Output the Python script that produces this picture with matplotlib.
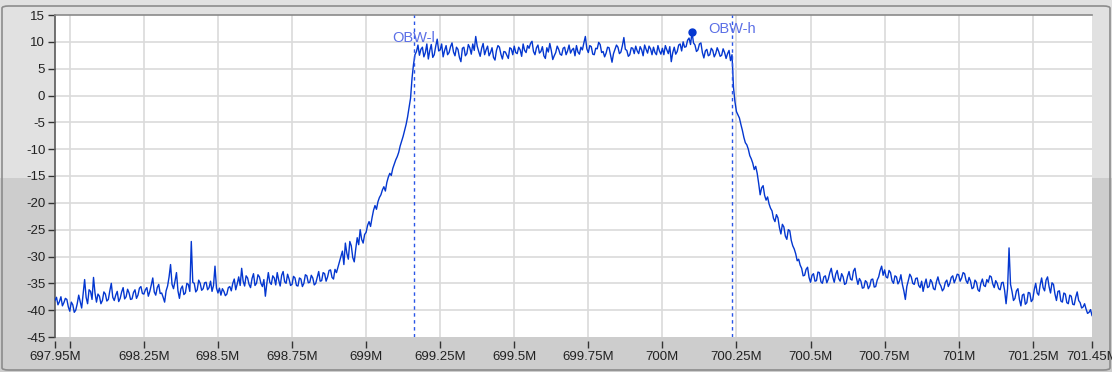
import numpy as np
import matplotlib.pyplot as plt
from matplotlib.patches import Rectangle, FancyBboxPatch
from matplotlib.ticker import FixedLocator, FixedFormatter

plt.rcParams['font.family'] = ['Liberation Sans', 'DejaVu Sans']

# spectrum trace, one value every 5 kHz from 697.95 MHz to 701.45 MHz (dBm)
f_start = 697.95
f_stop = 701.45
level = [
    # 697.95 - 698.245
    -38.2, -37.6, -39.0, -38.4, -37.5, -39.2, -38.6, -37.8, -38.0, -39.4,
    -40.2, -38.5, -39.0, -40.4, -40.0, -38.8, -37.2, -38.4, -39.6, -37.0,
    -34.3, -37.6, -38.8, -36.2, -36.5, -38.0, -33.9, -36.8, -38.5, -37.0,
    -37.4, -38.8, -38.2, -36.6, -37.0, -38.3, -38.0, -36.4, -35.0, -37.6,
    -38.2, -37.2, -36.5, -38.4, -37.8, -36.6, -35.8, -37.9, -37.5, -36.1,
    -36.8, -38.0, -37.9, -36.7, -36.2, -37.8, -37.2, -35.9, -35.6, -36.9,
    # 698.25 - 698.495
    -37.0, -36.2, -35.8, -37.4, -36.5, -35.3, -34.0, -36.6, -37.2, -35.8,
    -35.2, -36.9, -36.8, -37.6, -38.5, -36.4, -35.5, -33.8, -31.5, -35.2,
    -36.0, -34.6, -33.0, -36.4, -37.8, -36.0, -35.5, -37.1, -36.8, -35.0,
    -35.2, -36.5, -27.2, -34.8, -35.0, -36.6, -36.2, -34.4, -35.0, -36.3,
    -36.0, -34.9, -34.8, -36.2, -35.8, -34.6, -36.5, -35.4, -31.8, -35.9,
    # 698.50 - 698.745
    -36.8, -35.9, -37.2, -36.0, -36.5, -37.3, -37.0, -35.8, -35.6, -36.4,
    -35.0, -34.2, -36.2, -35.1, -33.8, -35.4, -32.2, -34.6, -35.5, -33.6,
    -34.0, -35.2, -35.8, -34.1, -33.2, -35.4, -35.0, -33.4, -33.8, -35.0,
    -35.6, -34.3, -37.4, -35.0, -33.0, -34.8, -35.2, -33.6, -34.0, -35.3,
    -33.0, -34.4, -35.5, -33.5, -32.8, -34.7, -35.0, -33.3, -34.2, -35.4,
    # 698.75 - 698.995
    -35.2, -33.7, -34.0, -35.4, -35.5, -34.0, -34.2, -35.6, -35.0, -33.4,
    -33.6, -34.9, -34.8, -33.5, -34.0, -35.3, -35.0, -33.9, -32.8, -34.6,
    -34.5, -33.0, -33.2, -34.6, -33.8, -32.6, -32.5, -33.9, -34.2, -32.4,
    -33.0, -32.0, -31.0, -30.0, -29.0, -31.5, -27.5, -29.4, -30.5, -27.2,
    -28.0, -30.2, -31.0, -28.6, -26.5, -27.8, -25.0, -26.8, -27.5, -25.9,
    # 699.00 - 699.245
    -25.5, -24.2, -23.5, -24.4, -22.8, -21.4, -20.5, -21.2, -19.8, -19.0,
    -18.5, -17.6, -17.0, -17.8, -16.2, -15.2, -14.5, -14.9, -13.6, -12.8,
    -12.0, -11.4, -10.6, -9.4, -8.5, -7.6, -6.5, -5.4, -4.0, -2.2,
    -0.5, 3.2, 5.8, 7.6, 8.2, 9.4, 7.5, 8.6, 9.0, 7.2,
    8.0, 9.6, 6.8, 8.4, 9.5, 7.1, 7.6, 9.2, 10.5, 8.3,
    # 699.25 - 699.495
    8.5, 9.6, 7.2, 8.4, 9.3, 7.6, 8.0, 9.1, 9.8, 8.1,
    7.4, 9.0, 8.6, 7.1, 6.3, 8.8, 9.0, 7.4, 7.8, 9.5,
    8.9, 7.7, 9.6, 8.4, 11.0, 9.2, 8.2, 7.3, 8.8, 9.7,
    7.6, 8.5, 9.2, 7.4, 8.0, 8.9, 7.1, 6.6, 8.4, 9.3,
    9.0, 7.7, 6.8, 8.2, 8.1, 7.5, 6.9, 8.9, 8.7, 7.6,
    # 699.50 - 699.745
    9.2, 8.0, 7.8, 9.0, 8.5, 7.3, 9.6, 8.4, 8.0, 9.3,
    8.8, 9.7, 10.1, 8.2, 7.6, 8.9, 9.4, 7.9, 8.2, 9.1,
    7.4, 6.9, 8.9, 8.1, 9.7, 8.4, 6.7, 7.4, 8.0, 9.2,
    8.6, 7.7, 7.5, 8.8, 9.0, 7.6, 8.3, 9.4, 7.9, 8.5,
    8.8, 7.4, 9.3, 8.1, 7.7, 9.0, 8.5, 9.8, 11.0, 8.7,
    # 699.75 - 699.995
    8.0, 9.3, 9.1, 7.7, 7.6, 8.8, 8.7, 9.9, 9.5, 8.0,
    8.2, 7.2, 7.9, 9.0, 8.9, 7.5, 6.2, 7.8, 8.6, 9.4,
    9.0, 7.8, 8.1, 9.3, 10.8, 8.6, 8.4, 7.3, 7.6, 8.9,
    8.8, 7.8, 9.2, 8.3, 7.8, 9.1, 8.5, 7.4, 9.4, 8.6,
    7.9, 9.2, 8.7, 7.6, 9.0, 8.0, 7.6, 9.3, 8.3, 7.7,
    # 700.00 - 700.245
    8.8, 7.6, 9.3, 8.5, 7.8, 9.1, 6.3, 8.0, 9.0, 7.7,
    8.2, 9.4, 9.6, 8.3, 10.0, 9.0, 9.1, 10.3, 10.7, 9.5,
    11.8, 9.8, 9.4, 8.2, 8.5, 9.6, 9.8, 8.0, 7.0, 8.3,
    8.6, 7.4, 7.6, 8.8, 8.4, 7.2, 7.8, 8.9, 8.2, 7.3,
    7.5, 8.7, 8.0, 6.9, 7.8, 8.4, 6.5, 7.6, 1.5, -1.2,
    # 700.25 - 700.495
    -3.0, -3.6, -4.2, -5.4, -6.5, -7.8, -8.8, -9.2, -10.0, -11.2,
    -11.8, -12.6, -13.8, -13.2, -14.5, -16.4, -18.5, -17.2, -16.8, -18.6,
    -19.5, -18.9, -20.2, -21.0, -21.5, -22.9, -23.5, -22.2, -22.8, -24.6,
    -25.8, -24.0, -24.5, -26.2, -26.8, -25.0, -25.2, -27.0, -28.0, -28.6,
    -29.5, -30.8, -30.5, -31.6, -32.2, -33.6, -33.5, -32.4, -32.0, -33.9,
    # 700.50 - 700.745
    -34.8, -33.5, -33.2, -34.6, -34.5, -32.9, -33.0, -34.7, -35.0, -33.8,
    -33.6, -34.9, -34.2, -33.0, -32.2, -33.8, -34.8, -33.3, -32.6, -34.1,
    -34.6, -33.2, -33.8, -35.2, -35.0, -33.7, -32.8, -34.2, -34.4, -32.7,
    -32.2, -34.0, -35.2, -34.1, -34.6, -35.9, -35.8, -34.5, -34.8, -36.0,
    -35.5, -34.3, -34.2, -35.7, -35.6, -34.4, -33.8, -32.6, -31.8, -33.5,
    # 700.75 - 700.995
    -32.5, -33.8, -34.0, -32.6, -33.0, -34.5, -35.0, -33.6, -33.8, -35.1,
    -34.6, -33.4, -35.2, -36.4, -38.0, -35.6, -34.5, -33.3, -33.8, -35.0,
    -35.2, -34.1, -34.0, -35.4, -35.8, -34.6, -36.5, -35.2, -34.2, -35.8,
    -35.6, -34.3, -34.8, -36.0, -36.2, -34.7, -33.8, -35.0, -35.5, -36.4,
    -36.0, -34.8, -34.4, -35.6, -35.0, -33.9, -33.6, -34.9, -34.2, -33.3,
    # 701.00 - 701.245
    -33.4, -34.6, -34.0, -33.0, -33.2, -34.5, -35.0, -33.9, -34.6, -36.0,
    -35.8, -34.4, -34.8, -36.2, -36.5, -35.0, -34.2, -35.4, -35.6, -34.3,
    -34.8, -33.6, -33.8, -35.1, -35.8, -34.5, -35.0, -36.0, -36.2, -34.9,
    -34.8, -36.3, -38.8, -36.0, -28.4, -35.2, -36.5, -38.2, -37.8, -36.4,
    -36.0, -38.0, -39.2, -37.2, -37.0, -38.9, -38.6, -36.7, -36.8, -38.4,
    # 701.25 - 701.45
    -38.0, -36.2, -35.0, -36.8, -37.2, -35.3, -34.0, -35.8, -36.4, -34.4,
    -33.8, -35.6, -36.8, -34.9, -35.2, -37.0, -38.2, -36.5, -36.4, -38.3,
    -38.5, -36.8, -37.0, -38.6, -38.8, -37.2, -37.4, -38.9, -39.0, -37.6,
    -36.6, -38.2, -38.6, -39.6, -39.4, -38.8, -39.8, -40.6, -40.4, -39.9,
    -41.0,
]

obw_low = 699.161
obw_high = 700.236

x_ticks = [697.95, 698.0, 698.25, 698.5, 698.75, 699.0, 699.25, 699.5,
           699.75, 700.0, 700.25, 700.5, 700.75, 701.0, 701.25, 701.45]
x_labels = ['697.95M', '', '698.25M', '698.5M', '698.75M', '699M', '699.25M',
            '699.5M', '699.75M', '700M', '700.25M', '700.5M', '700.75M',
            '701M', '701.25M', '701.45M']
y_ticks = list(range(-45, 16, 5))

W, H = 1112, 372
fig = plt.figure(figsize=(W / 100, H / 100), dpi=100)
fig.patch.set_facecolor('#cdcdcd')

# two-tone panel background + frame
split = 1 - 178 / H
fig.patches.append(Rectangle((0, split), 1, 1 - split, transform=fig.transFigure,
                             facecolor='#e1e1e1', edgecolor='none', zorder=-2))
fig.patches.append(FancyBboxPatch((2 / W, 2 / H), 1 - 4 / W, 1 - 8 / H,
                                  boxstyle='round,pad=0,rounding_size=0.006',
                                  transform=fig.transFigure, facecolor='none',
                                  edgecolor='#8c8c8c', lw=1.2, zorder=-1))

left, right, top, bottom = 55, 1092, 15, 337
ax = fig.add_axes([left / W, 1 - bottom / H, (right - left) / W, (bottom - top) / H])
ax.set_facecolor('white')

freq = np.linspace(f_start, f_stop, len(level))
lv = np.array(level)

ax.plot(freq, lv, color='#0437d0', lw=1.0, zorder=3)

# markers
for xm in (obw_low, obw_high):
    ax.axvline(xm, color='#2a55e6', lw=1.0, ls=(0, (2.5, 2.5)), zorder=4)
pk = int(np.argmax(lv))
ax.plot(freq[pk], lv[pk], 'o', color='#0437d0', ms=5, zorder=5)
ax.text(obw_low, 10.7, 'OBW-l', color='#5b6fe6', fontsize=10.5,
        ha='center', va='center', zorder=6)
ax.text(obw_high, 12.4, 'OBW-h', color='#5b6fe6', fontsize=10.5,
        ha='center', va='center', zorder=6)

ax.set_xlim(f_start, f_stop)
ax.set_ylim(-45, 15)

ax.xaxis.set_major_locator(FixedLocator(x_ticks))
ax.xaxis.set_major_formatter(FixedFormatter(x_labels))
ax.set_yticks(y_ticks)
ax.set_yticklabels([str(v) for v in y_ticks])

# grid
for xv in x_ticks[1:-1]:
    ax.axvline(xv, color='#dadada', lw=1.2, zorder=1)
for yv in y_ticks[1:-1]:
    ax.axhline(yv, color='#dadada', lw=1.2, zorder=1)

ax.spines['right'].set_visible(False)
ax.spines['bottom'].set_position(('outward', 3))
ax.spines['bottom'].set_visible(False)
ax.spines['top'].set_color('#8a8a8a')
ax.spines['top'].set_linewidth(1.2)
ax.spines['left'].set_color('#5a5a5a')
ax.spines['left'].set_linewidth(1.2)

ax.tick_params(axis='y', direction='out', length=5, width=1, color='#333333',
               labelsize=9.5, labelcolor='#222222', pad=2)
ax.tick_params(axis='x', direction='out', length=5, width=1, color='#333333',
               labelsize=9.5, labelcolor='#222222', pad=2)

fig.savefig('out.png', dpi=100, facecolor=fig.get_facecolor())
